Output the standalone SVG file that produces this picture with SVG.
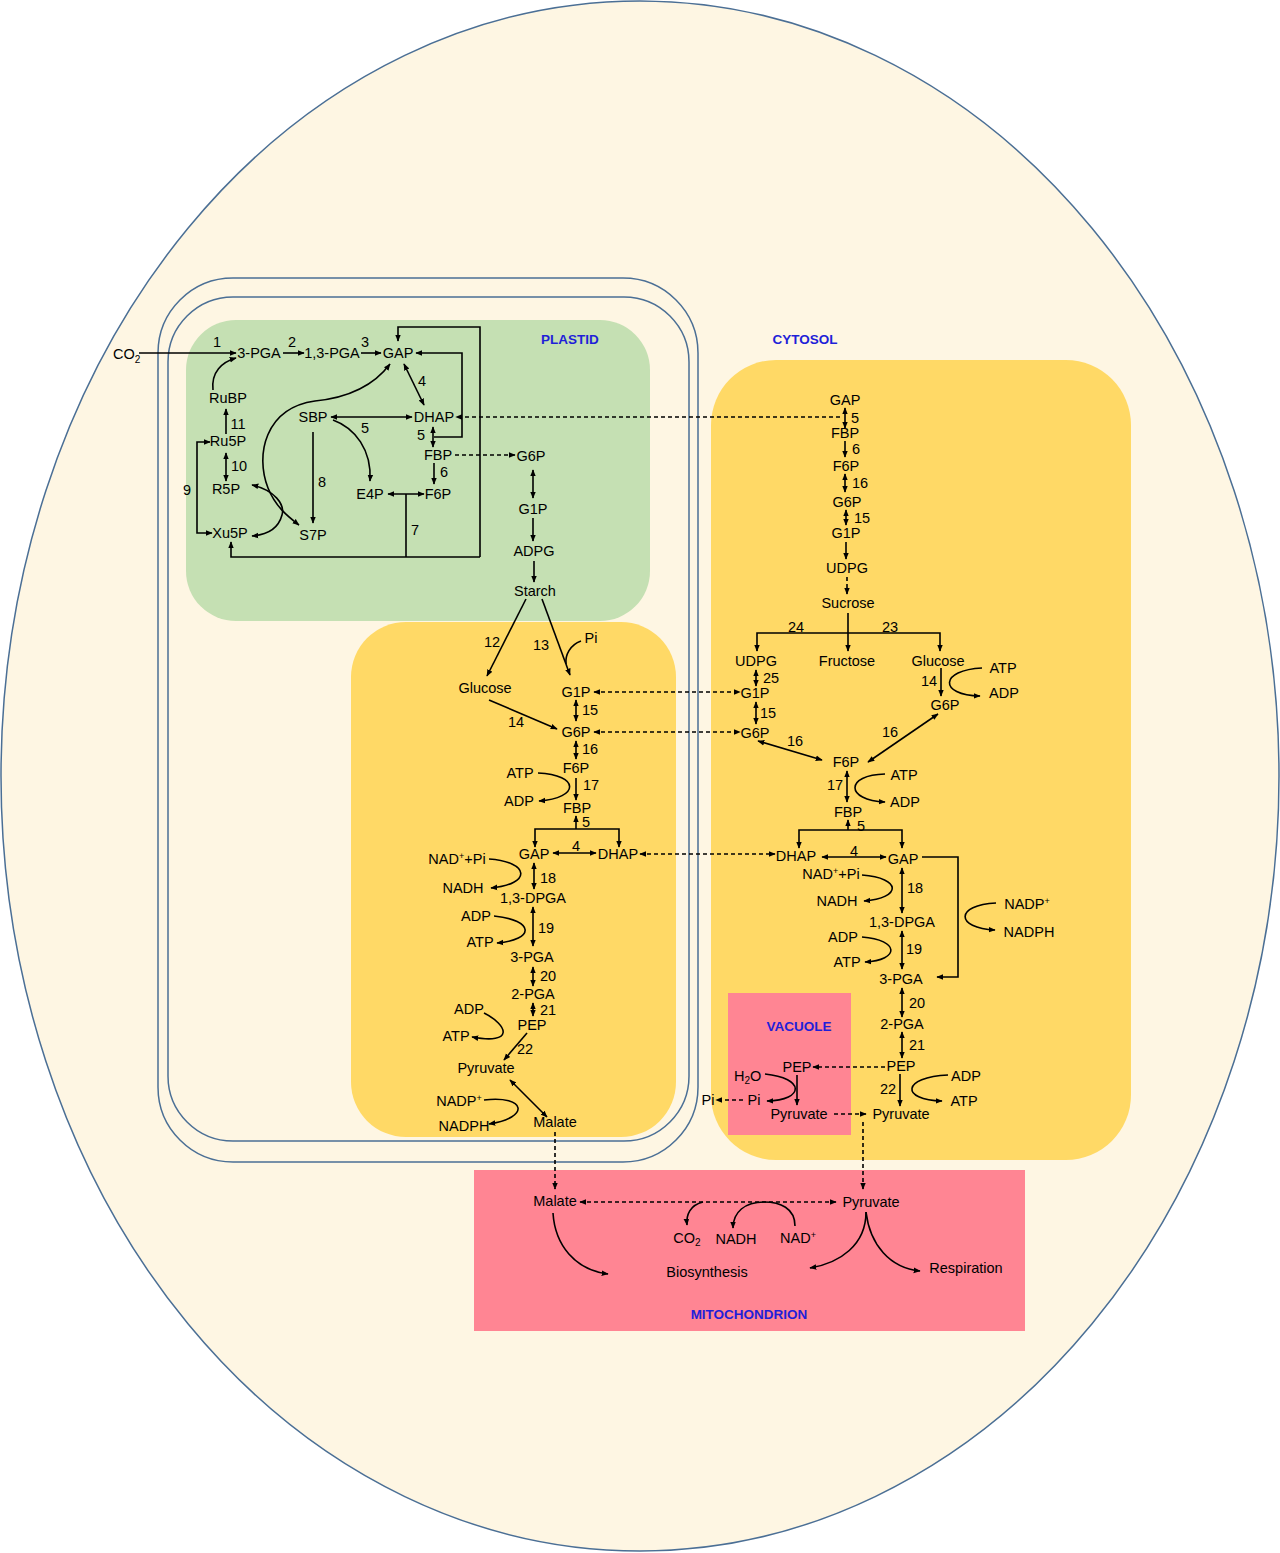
<svg xmlns="http://www.w3.org/2000/svg" width="1280" height="1553" viewBox="0 0 1280 1553">
<defs>
<marker id="a" viewBox="0 0 10 10" refX="9" refY="5" markerWidth="7" markerHeight="7" markerUnits="userSpaceOnUse" orient="auto-start-reverse"><path d="M0,1 L10,5 L0,9 z" fill="#000"/></marker>
</defs>
<style>
text{font-family:"Liberation Sans",Arial,sans-serif;font-size:14.5px;fill:#000;text-anchor:middle}
.s{text-anchor:start}
.h{font-weight:bold;font-size:13.5px;fill:#1f1fd8}
.l{stroke:#000;stroke-width:1.6;fill:none}
.e{marker-end:url(#a)}
.b{marker-start:url(#a);marker-end:url(#a)}
.d{stroke-dasharray:4 3}
.m{fill:none;stroke:#4b6f95;stroke-width:1.5}
</style>
<g id="compartments">
<ellipse cx="640" cy="776" rx="639" ry="775" fill="#fef6e3" stroke="#4b6f95" stroke-width="1.5"/>
<rect x="186" y="320" width="464" height="301" rx="50" fill="#c5e0b3"/>
<rect x="351" y="622" width="325" height="515" rx="55" fill="#ffd966"/>
<rect x="711" y="360" width="420" height="800" rx="65" fill="#ffd966"/>
<rect x="728" y="993" width="123" height="142" fill="#ff8593"/>
<rect x="474" y="1170" width="551" height="161" fill="#ff8593"/>
<rect class="m" x="158" y="278" width="540" height="884" rx="75"/>
<rect class="m" x="168" y="297" width="521" height="844" rx="65"/>
<text class="h" x="570" y="344">PLASTID</text>
<text class="h" x="805" y="344">CYTOSOL</text>
<text class="h" x="799" y="1031">VACUOLE</text>
<text class="h" x="749" y="1319">MITOCHONDRION</text>
</g>
<g id="connectors">
<path class="l e" d="M139,353 H236"/>
<path class="l e" d="M283,353 H304"/>
<path class="l e" d="M361,353 H381"/>
<path class="l e" d="M213,390 C211,372 222,362 236,358"/>
<path class="l e" d="M226,434 V409"/>
<path class="l b" d="M226,453 V481"/>
<path class="l b" d="M210,442 H197 V533 H212"/>
<path class="l b" d="M390,364 C372,388 345,398 315,401 C265,408 255,455 268,488 C276,508 290,518 299,525"/>
<path class="l b" d="M252,485 C275,490 285,505 282,515 C278,530 265,535 252,536"/>
<path class="l b" d="M331,417 H412"/>
<path class="l e" d="M333,420 C355,428 372,450 370,481"/>
<path class="l e" d="M313,432 V523"/>
<path class="l b" d="M404,364 L424,405"/>
<path class="l e" d="M434,437 H462 V353 H416"/>
<path class="l b" d="M433,427 V447"/>
<path class="l e" d="M434,463 V484"/>
<path class="l b" d="M388,494 H424"/>
<path class="l" d="M406,494 V557"/>
<path class="l e" d="M480,557 H231 V542"/>
<path class="l e" d="M480,557 V327 H398 V341"/>
<path class="l e d" d="M455,455 H515"/>
<path class="l e d" d="M840,417 H456"/>
<path class="l b" d="M533,470 V498"/>
<path class="l e" d="M533,518 V541"/>
<path class="l e" d="M534,561 V582"/>
<path class="l e" d="M526,599 L487,676"/>
<path class="l e" d="M542,599 L570,675"/>
<path class="l" d="M581,641 C570,645 565,655 566,664"/>
<path class="l e" d="M489,700 L557,729"/>
<path class="l b d" d="M594,692 H740"/>
<path class="l b" d="M576,700 V721"/>
<path class="l b d" d="M594,732 H740"/>
<path class="l b" d="M576,741 V759"/>
<path class="l e" d="M538,773 C580,775 580,798 539,801"/>
<path class="l e" d="M576,778 V800"/>
<path class="l e" d="M576,829 V816"/>
<path class="l b" d="M535,847 V829 H619 V847"/>
<path class="l b" d="M553,853 H596"/>
<path class="l b d" d="M640,854 H775"/>
<path class="l e" d="M489,859 C530,862 532,884 491,888"/>
<path class="l b" d="M534,863 V889"/>
<path class="l e" d="M494,916 C535,920 535,940 497,943"/>
<path class="l b" d="M533,907 V946"/>
<path class="l b" d="M533,967 V986"/>
<path class="l b" d="M533,1003 V1016"/>
<path class="l e" d="M484,1013 C508,1025 515,1045 472,1037"/>
<path class="l e" d="M527,1033 L504,1060"/>
<path class="l b" d="M510,1080 L547,1117"/>
<path class="l e" d="M484,1100 C527,1095 530,1118 489,1124"/>
<path class="l e d" d="M555,1132 V1189"/>
<path class="l b" d="M845,408 V428"/>
<path class="l e" d="M845,441 V457"/>
<path class="l b" d="M845,474 V492"/>
<path class="l b" d="M846,510 V525"/>
<path class="l e" d="M846,542 V559"/>
<path class="l e d" d="M847,577 V594"/>
<path class="l e" d="M848,613 V651"/>
<path class="l b" d="M757,651 V633 H940 V651"/>
<path class="l b" d="M756,670 V686"/>
<path class="l b" d="M756,702 V724"/>
<path class="l b" d="M758,741 L822,760"/>
<path class="l e" d="M941,668 V696"/>
<path class="l e" d="M982,668 C940,670 938,695 980,696"/>
<path class="l b" d="M938,714 L868,762"/>
<path class="l b" d="M847,771 V802"/>
<path class="l e" d="M885,774 C845,775 845,800 885,802"/>
<path class="l e" d="M848,830 V820"/>
<path class="l b" d="M799,848 V830 H902 V848"/>
<path class="l b" d="M822,857 H886"/>
<path class="l e" d="M922,857 H958 V977 H937"/>
<path class="l e" d="M996,903 C955,905 955,928 995,930"/>
<path class="l e" d="M862,875 C902,878 902,898 864,901"/>
<path class="l b" d="M902,868 V913"/>
<path class="l e" d="M862,937 C900,940 900,960 865,962"/>
<path class="l b" d="M902,931 V969"/>
<path class="l b" d="M902,988 V1017"/>
<path class="l b" d="M902,1032 V1058"/>
<path class="l e d" d="M885,1067 H813"/>
<path class="l e" d="M900,1074 V1106"/>
<path class="l e" d="M948,1075 C902,1077 900,1100 942,1101"/>
<path class="l e" d="M797,1075 V1105"/>
<path class="l e" d="M765,1074 C805,1078 805,1100 767,1101"/>
<path class="l e d" d="M743,1100 H716"/>
<path class="l e d" d="M834,1114 H866"/>
<path class="l e d" d="M863,1122 V1189"/>
<path class="l b d" d="M580,1202 H836"/>
<path class="l e" d="M703,1202 C690,1205 686,1215 687,1225"/>
<path class="l e" d="M795,1226 C795,1208 780,1202 764,1202 C745,1202 733,1212 733,1228"/>
<path class="l e" d="M553,1213 C555,1245 575,1270 608,1274"/>
<path class="l e" d="M866,1212 C866,1245 840,1263 810,1268"/>
<path class="l e" d="M866,1212 C870,1245 890,1268 920,1271"/>
</g>
<g id="labels">
<text x="217" y="347">1</text><text x="292" y="347">2</text><text x="365" y="347">3</text>
<text x="422" y="386">4</text><text x="365" y="433">5</text><text x="421" y="440">5</text>
<text x="238" y="429">11</text><text x="444" y="477">6</text><text x="239" y="471">10</text>
<text x="322" y="487">8</text><text x="187" y="495">9</text><text x="415" y="535">7</text>
<text x="492" y="647">12</text><text x="541" y="650">13</text>
<text x="590" y="715">15</text><text x="516" y="727">14</text><text x="590" y="754">16</text>
<text x="591" y="790">17</text><text x="586" y="827">5</text><text x="576" y="851">4</text>
<text x="548" y="883">18</text><text x="546" y="933">19</text><text x="548" y="981">20</text>
<text x="548" y="1015">21</text><text x="525" y="1054">22</text>
<text x="855" y="423">5</text><text x="856" y="454">6</text><text x="860" y="488">16</text>
<text x="862" y="523">15</text><text x="796" y="632">24</text><text x="890" y="632">23</text>
<text x="771" y="683">25</text><text x="929" y="686">14</text><text x="768" y="718">15</text>
<text x="890" y="737">16</text><text x="795" y="746">16</text><text x="835" y="790">17</text>
<text x="861" y="831">5</text><text x="854" y="856">4</text><text x="915" y="893">18</text>
<text x="914" y="954">19</text><text x="917" y="1008">20</text><text x="917" y="1050">21</text>
<text x="888" y="1094">22</text>
</g>
<g id="plastid-nodes">
<g id="p-CO2"><text class="s" x="113" y="359">CO<tspan font-size="10" dy="4">2</tspan></text></g>
<g id="p-3PGA"><text x="259" y="358">3-PGA</text></g>
<g id="p-13PGA"><text x="332" y="358">1,3-PGA</text></g>
<g id="p-GAP"><text x="398" y="358">GAP</text></g>
<g id="p-RuBP"><text x="228" y="403">RuBP</text></g>
<g id="p-SBP"><text x="313" y="422">SBP</text></g>
<g id="p-DHAP"><text x="434" y="422">DHAP</text></g>
<g id="p-Ru5P"><text x="228" y="446">Ru5P</text></g>
<g id="p-FBP"><text x="438" y="460">FBP</text></g>
<g id="p-G6P"><text x="531" y="461">G6P</text></g>
<g id="p-R5P"><text x="226" y="494">R5P</text></g>
<g id="p-E4P"><text x="370" y="499">E4P</text></g>
<g id="p-F6P"><text x="438" y="499">F6P</text></g>
<g id="p-G1P"><text x="533" y="514">G1P</text></g>
<g id="p-Xu5P"><text x="230" y="538">Xu5P</text></g>
<g id="p-S7P"><text x="313" y="540">S7P</text></g>
<g id="p-ADPG"><text x="534" y="556">ADPG</text></g>
<g id="p-Starch"><text x="535" y="596">Starch</text></g>
<g id="p-Pi"><text x="591" y="643">Pi</text></g>
<g id="p-Glucose"><text x="485" y="693">Glucose</text></g>
<g id="p-G1P2"><text x="576" y="697">G1P</text></g>
<g id="p-G6P2"><text x="576" y="737">G6P</text></g>
<g id="p-F6P2"><text x="576" y="773">F6P</text></g>
<g id="p-ATP1"><text x="520" y="778">ATP</text></g>
<g id="p-ADP1"><text x="519" y="806">ADP</text></g>
<g id="p-FBP2"><text x="577" y="813">FBP</text></g>
<g id="p-GAP2"><text x="534" y="859">GAP</text></g>
<g id="p-DHAP2"><text x="618" y="859">DHAP</text></g>
<g id="p-NADPi"><text x="457" y="864">NAD<tspan font-size="9" dy="-5">+</tspan><tspan dy="5">+Pi</tspan></text></g>
<g id="p-NADH"><text x="463" y="893">NADH</text></g>
<g id="p-13DPGA"><text x="533" y="903">1,3-DPGA</text></g>
<g id="p-ADP2"><text x="476" y="921">ADP</text></g>
<g id="p-ATP2"><text x="480" y="947">ATP</text></g>
<g id="p-3PGA2"><text x="532" y="962">3-PGA</text></g>
<g id="p-2PGA"><text x="533" y="999">2-PGA</text></g>
<g id="p-ADP3"><text x="469" y="1014">ADP</text></g>
<g id="p-PEP"><text x="532" y="1030">PEP</text></g>
<g id="p-ATP3"><text x="456" y="1041">ATP</text></g>
<g id="p-Pyruvate"><text x="486" y="1073">Pyruvate</text></g>
<g id="p-NADP"><text x="459" y="1106">NADP<tspan font-size="9" dy="-5">+</tspan></text></g>
<g id="p-NADPH"><text x="464" y="1131">NADPH</text></g>
<g id="p-Malate"><text x="555" y="1127">Malate</text></g>
</g>
<g id="cytosol-nodes">
<g id="c-GAP"><text x="845" y="405">GAP</text></g>
<g id="c-FBP"><text x="845" y="438">FBP</text></g>
<g id="c-F6P"><text x="846" y="471">F6P</text></g>
<g id="c-G6P"><text x="847" y="507">G6P</text></g>
<g id="c-G1P"><text x="846" y="538">G1P</text></g>
<g id="c-UDPG"><text x="847" y="573">UDPG</text></g>
<g id="c-Sucrose"><text x="848" y="608">Sucrose</text></g>
<g id="c-UDPG2"><text x="756" y="666">UDPG</text></g>
<g id="c-Fructose"><text x="847" y="666">Fructose</text></g>
<g id="c-Glucose"><text x="938" y="666">Glucose</text></g>
<g id="c-ATP1"><text x="1003" y="673">ATP</text></g>
<g id="c-G1P2"><text x="755" y="698">G1P</text></g>
<g id="c-ADP1"><text x="1004" y="698">ADP</text></g>
<g id="c-G6P2"><text x="945" y="710">G6P</text></g>
<g id="c-G6P3"><text x="755" y="738">G6P</text></g>
<g id="c-F6P2"><text x="846" y="767">F6P</text></g>
<g id="c-ATP2"><text x="904" y="780">ATP</text></g>
<g id="c-ADP2"><text x="905" y="807">ADP</text></g>
<g id="c-FBP2"><text x="848" y="817">FBP</text></g>
<g id="c-DHAP"><text x="796" y="861">DHAP</text></g>
<g id="c-GAP2"><text x="903" y="864">GAP</text></g>
<g id="c-NADPi"><text x="831" y="879">NAD<tspan font-size="9" dy="-5">+</tspan><tspan dy="5">+Pi</tspan></text></g>
<g id="c-NADH"><text x="837" y="906">NADH</text></g>
<g id="c-NADP"><text x="1027" y="909">NADP<tspan font-size="9" dy="-5">+</tspan></text></g>
<g id="c-13DPGA"><text x="902" y="927">1,3-DPGA</text></g>
<g id="c-NADPH"><text x="1029" y="937">NADPH</text></g>
<g id="c-ADP3"><text x="843" y="942">ADP</text></g>
<g id="c-ATP3"><text x="847" y="967">ATP</text></g>
<g id="c-3PGA"><text x="901" y="984">3-PGA</text></g>
<g id="c-2PGA"><text x="902" y="1029">2-PGA</text></g>
<g id="c-PEP"><text x="901" y="1071">PEP</text></g>
<g id="c-ADP4"><text x="966" y="1081">ADP</text></g>
<g id="c-ATP4"><text x="964" y="1106">ATP</text></g>
<g id="c-Pyruvate"><text x="901" y="1119">Pyruvate</text></g>
</g>
<g id="vacuole-nodes">
<g id="v-H2O"><text class="s" x="734" y="1081">H<tspan font-size="10" dy="3">2</tspan><tspan dy="-3">O</tspan></text></g>
<g id="v-PEP"><text x="797" y="1072">PEP</text></g>
<g id="v-Pi"><text x="754" y="1105">Pi</text></g>
<g id="v-Pyruvate"><text x="799" y="1119">Pyruvate</text></g>
<g id="v-Pi-out"><text x="708" y="1105">Pi</text></g>
</g>
<g id="mito-nodes">
<g id="m-Malate"><text x="555" y="1206">Malate</text></g>
<g id="m-Pyruvate"><text x="871" y="1207">Pyruvate</text></g>
<g id="m-CO2"><text x="687" y="1243">CO<tspan font-size="10" dy="3">2</tspan></text></g>
<g id="m-NADH"><text x="736" y="1244">NADH</text></g>
<g id="m-NAD"><text x="798" y="1243">NAD<tspan font-size="9" dy="-5">+</tspan></text></g>
<g id="m-Biosynthesis"><text x="707" y="1277">Biosynthesis</text></g>
<g id="m-Respiration"><text x="966" y="1273">Respiration</text></g>
</g>
</svg>
